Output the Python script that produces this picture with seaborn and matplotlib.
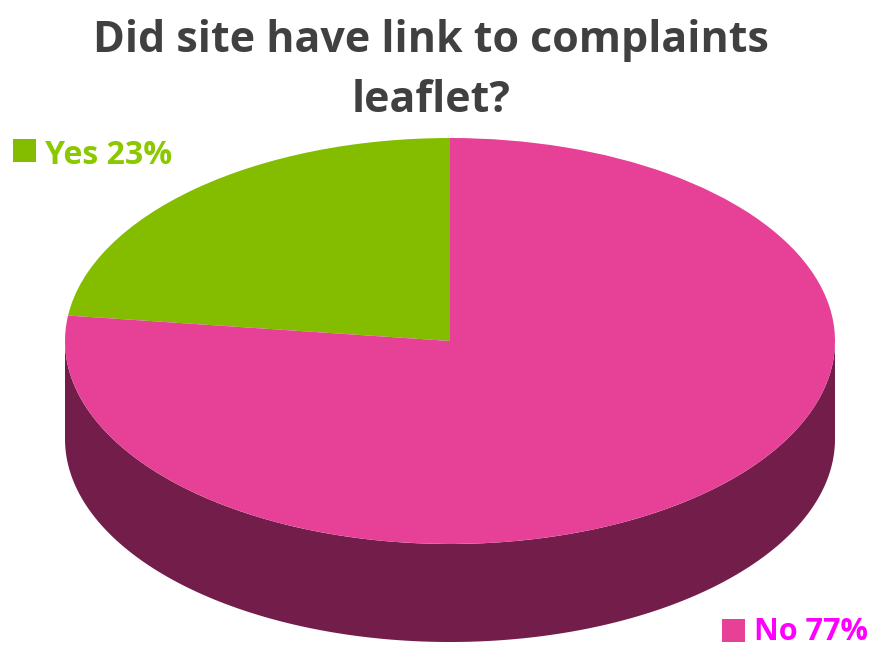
import numpy as np
import matplotlib
matplotlib.use("Agg")
import matplotlib.pyplot as plt
from matplotlib.patches import Polygon, Rectangle
import seaborn as sns

sns.set_theme(style="white")
plt.rcParams["font.family"] = ["Open Sans", "DejaVu Sans"]

# Survey answers
categories = ["Yes", "No"]
shares = [23, 77]
top_colors = ["#84bd00", "#e64097"]
side_colors = ["#4f7100", "#731d4b"]
label_colors = ["#8cc800", "#ff00ff"]
title_lines = ["Did site have link to complaints", "leaflet?"]

W, H = 878, 647
fig = plt.figure(figsize=(W / 100, H / 100), dpi=100)
ax = fig.add_axes([0, 0, 1, 1])

# Ellipse geometry of the tilted pie (in figure pixels)
cx, cy, rx, ry, depth_px = 450, 341, 385, 203, 98
depth = depth_px / ry

# Side walls: visible front half, coloured by whichever slice owns each angle
start = 90.0
bounds = [start]
for s in shares:
    bounds.append(bounds[-1] + 360.0 * s / sum(shares))
for i in range(len(shares)):
    a0, a1 = bounds[i], bounds[i + 1]
    # intersect slice span with the front arc 180..360 (mod 360)
    for off in (0, 360, -360):
        lo = max(a0, 180 + off)
        hi = min(a1, 360 + off)
        if hi > lo:
            t = np.radians(np.linspace(lo, hi, 200))
            top = np.column_stack([np.cos(t), np.sin(t)])
            bot = np.column_stack([np.cos(t[::-1]), np.sin(t[::-1]) - depth])
            ax.add_patch(Polygon(np.vstack([top, bot]), closed=True,
                                 facecolor=side_colors[i], edgecolor="none",
                                 zorder=1))

# Top face
ax.pie(shares, colors=top_colors, startangle=start, counterclock=True,
       radius=1, center=(0, 0), frame=True,
       wedgeprops=dict(linewidth=0, edgecolor="none"))
for w in ax.patches:
    w.set_zorder(max(w.get_zorder(), 2))
ax.set_aspect("auto")
ax.set_xlim((0 - cx) / rx, (W - cx) / rx)
ax.set_ylim((cy - H) / ry, cy / ry)
ax.axis("off")

# Title, two centred lines
for line, y_mid in zip(title_lines, (35, 95)):
    fig.text(0.5 - 8 / W, 1 - y_mid / H, line, ha="center",
             va="center_baseline", fontsize=31, fontweight="bold",
             color="#404040")

# Legend-style labels next to the pie
def tag(x_box, y_box, y_text, text, box_color, text_color, size):
    fig.patches.append(Rectangle((x_box / W, 1 - (y_box + 11) / H),
                                 23 / W, 23 / H, transform=fig.transFigure,
                                 facecolor=box_color, edgecolor="none"))
    fig.text((x_box + 32) / W, 1 - y_text / H, text, ha="left",
             va="center_baseline", fontsize=size, fontweight="bold",
             color=text_color)

tag(13, 151, 151, f"{categories[0]} {shares[0]}%", top_colors[0],
    label_colors[0], 23)
tag(722, 631, 628, f"{categories[1]} {shares[1]}%", top_colors[1],
    label_colors[1], 22)

fig.savefig("out.png", dpi=100)
